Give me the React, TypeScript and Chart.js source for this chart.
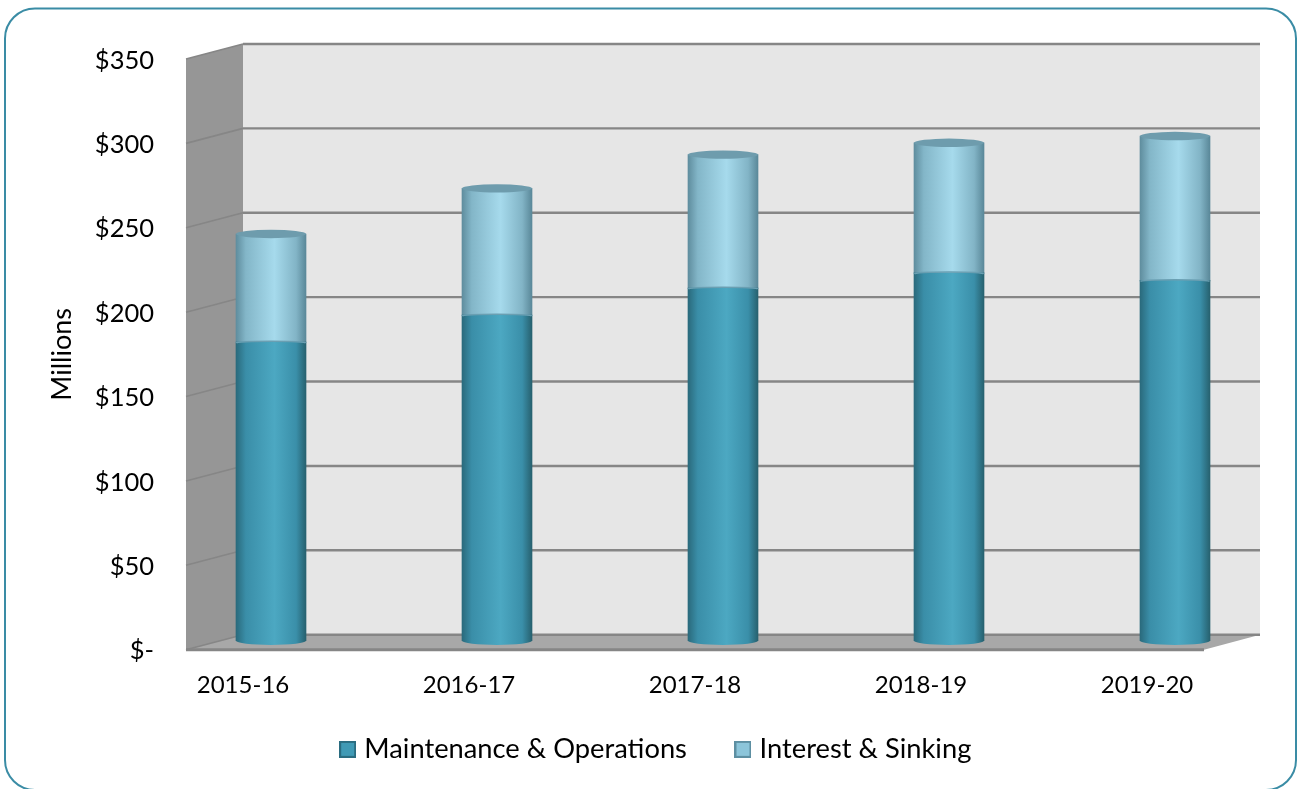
import React, { useEffect, useRef } from "react";
import { Chart, registerables } from "chart.js";

Chart.register(...registerables);

const categories = ["2015-16", "2016-17", "2017-18", "2018-19", "2019-20"];
const maintenance = [177, 193, 209, 218, 213.5];
const interest = [64, 75, 79, 77, 85.5];
const yTicks = [0, 50, 100, 150, 200, 250, 300, 350];
const FONT = "Lato, 'Open Sans', sans-serif";
const GRID = "#868686";
const WALL_L = 186, WALL_R = 243, BACK_R = 1260, FLOOR_R = 1204, DEPTH = 15, BAR_LIFT = 9, RY = 4.2;

function cylGrad(ctx: CanvasRenderingContext2D, x: number, w: number, stops: string[]) {
  const g = ctx.createLinearGradient(x - w / 2, 0, x + w / 2, 0);
  const pos = [0, 0.14, 0.55, 0.86, 1];
  stops.forEach((c, i) => g.addColorStop(pos[i], c));
  return g;
}
const lowStops = ["#2a6a7c", "#3a8ea8", "#4ca8c2", "#3a8fa9", "#27616f"];
const upStops = ["#5f8d9e", "#83b6c8", "#a6daec", "#82b4c6", "#5a8899"];

function swatch(fill: string, edge: string) {
  const c = document.createElement("canvas");
  c.width = 17;
  c.height = 17;
  const g = c.getContext("2d")!;
  g.fillStyle = fill;
  g.fillRect(0, 0, 17, 17);
  g.strokeStyle = edge;
  g.lineWidth = 2;
  g.strokeRect(1, 1, 15, 15);
  return c;
}

const scene = {
  id: "scene",
  beforeDraw(chart: any) {
    const { ctx } = chart;
    const y = chart.scales.y;
    // the x labels sit below a deliberately short axis box, so they must not be clipped to it
    chart.scales.x._computeLabelArea = () => undefined;
    const top = y.getPixelForValue(350), bot = y.getPixelForValue(0);
    ctx.save();
    ctx.fillStyle = "#fff";
    ctx.fillRect(0, 0, chart.width, chart.height);
    ctx.strokeStyle = "#3a8ca5";
    ctx.lineWidth = 2;
    ctx.beginPath();
    ctx.roundRect(5, 8.5, 1291, 781.5, 30);
    ctx.stroke();
    ctx.fillStyle = "#e6e6e6";
    ctx.fillRect(WALL_R, top - DEPTH, BACK_R - WALL_R, bot - top);
    ctx.fillStyle = "#969696";
    ctx.beginPath();
    ctx.moveTo(WALL_L, top);
    ctx.lineTo(WALL_R, top - DEPTH);
    ctx.lineTo(WALL_R, bot - DEPTH);
    ctx.lineTo(WALL_L, bot);
    ctx.closePath();
    ctx.fill();
    ctx.fillStyle = "#a8a8a8";
    ctx.beginPath();
    ctx.moveTo(WALL_L, bot);
    ctx.lineTo(WALL_R, bot - DEPTH);
    ctx.lineTo(BACK_R, bot - DEPTH);
    ctx.lineTo(FLOOR_R, bot);
    ctx.closePath();
    ctx.fill();
    ctx.strokeStyle = GRID;
    yTicks.forEach((v) => {
      const p = y.getPixelForValue(v);
      ctx.lineWidth = 1.6;
      ctx.beginPath();
      ctx.moveTo(WALL_L, p);
      ctx.lineTo(WALL_R, p - DEPTH);
      ctx.stroke();
      ctx.lineWidth = 2.4;
      ctx.beginPath();
      ctx.moveTo(WALL_R, p - DEPTH);
      ctx.lineTo(BACK_R, p - DEPTH);
      ctx.stroke();
    });
    ctx.lineWidth = 3;
    ctx.beginPath();
    ctx.moveTo(WALL_L, bot);
    ctx.lineTo(FLOOR_R, bot);
    ctx.stroke();
    ctx.restore();
  },
  beforeDatasetsDraw(chart: any) {
    const { ctx } = chart;
    ctx.save();
    ctx.translate(0, -BAR_LIFT);
    chart.getDatasetMeta(0).data.forEach((b: any) => {
      ctx.fillStyle = cylGrad(ctx, b.x, b.width, lowStops);
      ctx.beginPath();
      ctx.ellipse(b.x, b.base, b.width / 2, RY, 0, 0, Math.PI * 2);
      ctx.fill();
    });
  },
  afterDatasetsDraw(chart: any) {
    const { ctx } = chart;
    chart.getDatasetMeta(0).data.forEach((b: any) => {
      ctx.strokeStyle = "#6a9fb2";
      ctx.lineWidth = 1.5;
      ctx.beginPath();
      ctx.ellipse(b.x, b.y + 1, b.width / 2, RY * 0.4, 0, Math.PI, Math.PI * 2);
      ctx.stroke();
    });
    chart.getDatasetMeta(1).data.forEach((b: any) => {
      ctx.fillStyle = "#6e9cad";
      ctx.beginPath();
      ctx.ellipse(b.x, b.y, b.width / 2, RY, 0, 0, Math.PI * 2);
      ctx.fill();
    });
    ctx.restore();
  },
};

function fillFor(stops: string[], solid: string) {
  return (c: any) => {
    if (c.dataIndex === undefined) return solid;
    const x = c.chart.scales.x?.getPixelForValue(c.dataIndex);
    if (!Number.isFinite(x)) return solid;
    return cylGrad(c.chart.ctx, x, 70, stops);
  };
}

export default function App() {
  const ref = useRef<HTMLCanvasElement>(null);
  useEffect(() => {
    document.body.style.margin = "0";
    const swatches = [swatch("#409ab5", "#2a6c80"), swatch("#8cc5da", "#5d8fa2")];
    const chart = new Chart(ref.current!, {
      type: "bar",
      plugins: [scene],
      data: {
        labels: categories,
        datasets: [
          { label: "Maintenance & Operations", data: maintenance, backgroundColor: fillFor(lowStops, "#409ab5"), borderWidth: 0, barThickness: 70, clip: false },
          { label: "Interest & Sinking", data: interest, backgroundColor: fillFor(upStops, "#8cc5da"), borderWidth: 0, barThickness: 70, clip: false },
        ],
      } as any,
      options: {
        responsive: false,
        animation: false,
        layout: { padding: { left: 28, right: 9, top: 59, bottom: 16 } },
        plugins: {
          tooltip: { enabled: false },
          legend: {
            position: "bottom",
            labels: {
              color: "#000",
              font: { family: FONT, size: 27.3 },
              usePointStyle: true,
              pointStyleWidth: 6,
              boxHeight: 17,
              padding: 53,
              generateLabels(chart: any) {
                const items = Chart.defaults.plugins.legend.labels.generateLabels(chart);
                items.forEach((it: any, i: number) => {
                  it.pointStyle = swatches[i];
                });
                return items;
              },
            },
          },
        },
        scales: {
          x: {
            stacked: true,
            grid: { display: false, drawTicks: false },
            border: { display: false },
            ticks: { color: "#000", font: { family: FONT, size: 24 }, labelOffset: -28, padding: 21, maxRotation: 0 },
            afterFit(s: any) { s.height = 33; },
          },
          y: {
            stacked: true,
            min: 0,
            max: 350,
            grid: { display: false, drawTicks: false },
            border: { display: false },
            title: { display: true, text: "Millions", color: "#000", font: { family: FONT, size: 27 }, padding: { top: 18, bottom: 0 } },
            ticks: {
              color: "#000",
              font: { family: FONT, size: 25.5 },
              stepSize: 50,
              padding: 4,
              labelOffset: 1.5,
              callback: (v: any) => (v === 0 ? "$-" : "$" + v),
            },
            afterFit(s: any) { s.width = 130; },
          },
        },
      },
    } as any);
    return () => chart.destroy();
  }, []);
  return (
    <div style={{ width: 1297, height: 789, overflow: "hidden" }}>
      <canvas ref={ref} width={1297} height={789} style={{ display: "block" }} />
    </div>
  );
}
